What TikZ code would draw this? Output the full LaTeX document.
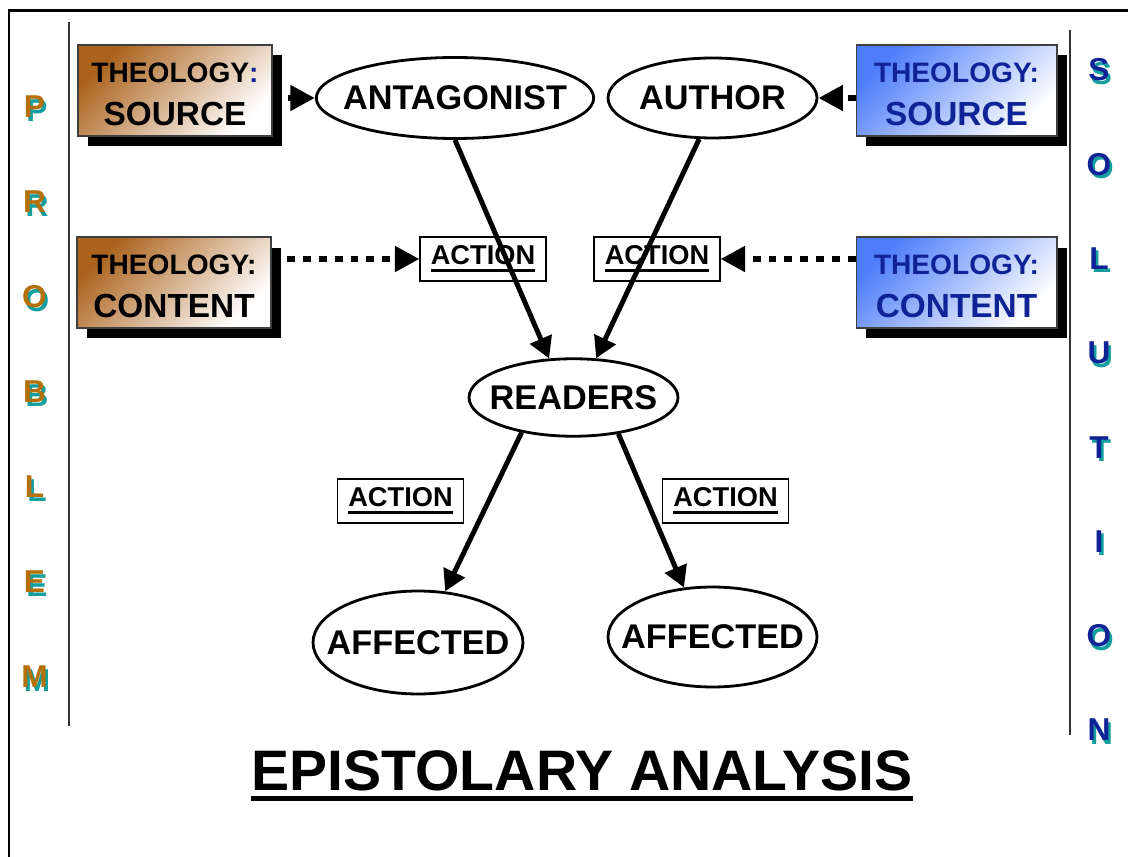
\documentclass[tikz,border=0pt]{standalone}
\usepackage{fontspec}
\setmainfont{Liberation Sans}
\usetikzlibrary{shapes.geometric,arrows.meta,shadows}
\definecolor{brownbox}{RGB}{170,98,28}
\definecolor{bluebox}{RGB}{78,125,250}
\definecolor{navytext}{RGB}{15,35,150}
\definecolor{orangeltr}{RGB}{182,112,10}
\definecolor{tealshadow}{RGB}{20,158,158}
\newcommand{\barline}[3]{\setbox0=\hbox{#3}\rlap{\rule[-#1]{\wd0}{#2}}\box0}
\newcommand{\nowide}[1]{\makebox[0pt]{#1}}
\newcommand{\theo}[2]{\rule{0pt}{16pt}THEOLOGY#1\\\fontsize{19}{24.5}\selectfont #2}

\begin{document}
\begin{tikzpicture}[x=0.02cm,y=-0.02cm,
  every node/.style={font=\bfseries},
  theobox/.style={rectangle,draw=black!75,line width=0.6pt,minimum height=1.82cm,align=center,
    drop shadow={shadow xshift=0.2cm,shadow yshift=-0.21cm,fill=black,opacity=1},
    font=\bfseries\fontsize{16}{24.5}\selectfont},
  probbox/.style={theobox,minimum width=3.88cm,top color=brownbox,bottom color=white,shading angle=45},
  solbox/.style={theobox,minimum width=4.02cm,top color=bluebox,bottom color=white,shading angle=45,text=navytext},
  who/.style={ellipse,draw,line width=1.6pt,inner sep=0pt,font=\bfseries\fontsize{19.5}{22}\selectfont},
  actbox/.style={rectangle,draw,line width=0.6pt,fill=white,minimum width=2.52cm,minimum height=0.88cm,
    font=\bfseries\fontsize{15.5}{18}\selectfont},
  flow/.style={line width=2.8pt,-{Triangle[length=12pt,width=13pt]}},
  hint/.style={line width=3.6pt,dash pattern=on 4.5pt off 4.5pt,-{Triangle[length=14pt,width=14pt]}},
  ltr/.style={font=\bfseries\fontsize{18}{20}\selectfont}]
\fill[white] (0,0) rectangle (1128,857);
\useasboundingbox (0,0) rectangle (1128,857);
% frame and side rules
\draw[line width=1.7pt] (9,857) -- (9,11) -- (1128,11);
\draw[line width=0.8pt,black!80] (69,22) -- (69,726);
\draw[line width=0.8pt,black!80] (1070,30) -- (1070,735);
% side words
\foreach \c [count=\i] in {P,R,O,B,L,E,M}{
  \node[ltr,text=tealshadow] (pb\i) at (37,110.5+95*\i-95) {\c};
  \node[ltr,text=orangeltr] (pl\i) at (34.5,107+95*\i-95) {\c};}
\foreach \c [count=\i] in {S,O,L,U,T,I,O,N}{
  \node[ltr,text=tealshadow] (sb\i) at (1101.5,73.5+94.3*\i-94.3) {\c};
  \node[ltr,text=navytext] (sl\i) at (1099,70+94.3*\i-94.3) {\c};}
% theology boxes
\node[probbox] (psrc) at (175,90.5) {\theo{\textcolor{navytext}{:}}{SOURCE}};
\node[probbox] (pcnt) at (174,282.5) {\theo{:}{CONTENT}};
\node[solbox] (ssrc) at (956.5,90.5) {\theo{:}{SOURCE}};
\node[solbox] (scnt) at (956.5,282.5) {\theo{:}{CONTENT}};
% people
\node[who,minimum width=5.55cm,minimum height=1.62cm] (ant) at (455,98) {\nowide{ANTAGONIST}};
\node[who,minimum width=4.18cm,minimum height=1.6cm] (auth) at (712.5,98) {\nowide{AUTHOR}};
\node[who,minimum width=4.18cm,minimum height=1.55cm] (rdr) at (573.5,397.5) {\nowide{READERS}};
\node[who,minimum width=4.2cm,minimum height=2.06cm] (aff1) at (418,642.5) {\nowide{AFFECTED}};
\node[who,minimum width=4.18cm,minimum height=2cm] (aff2) at (712.5,637) {\nowide{AFFECTED}};
% action labels
\node[actbox] (act1) at (483,259) {\barline{4pt}{1.7pt}{ACTION}};
\node[actbox] (act2) at (657,259) {\barline{4pt}{1.7pt}{ACTION}};
\node[actbox] (act3) at (400.5,501) {\barline{4pt}{1.7pt}{ACTION}};
\node[actbox] (act4) at (725.5,501) {\barline{4pt}{1.7pt}{ACTION}};
% arrows
\draw[flow] (ant.south) -- (rdr.122);
\draw[flow] (auth.252) -- (rdr.60);
\draw[flow] (rdr.214) -- (aff1.62);
\draw[flow] (rdr.321) -- (aff2.120);
\draw[hint] (psrc.east |- ant) -- (ant.west);
\draw[hint] (ssrc.west |- auth) -- (auth.east);
\draw[hint] (pcnt.east |- act1) -- (act1.west);
\draw[hint] (scnt.west |- act2) -- (act2.east);
% title
\node[font=\bfseries\fontsize{32.5}{36}\selectfont,anchor=base] (ttl) at (582,790) {\barline{6.2pt}{2.8pt}{EPISTOLARY ANALYSIS}};
\end{tikzpicture}
\end{document}
